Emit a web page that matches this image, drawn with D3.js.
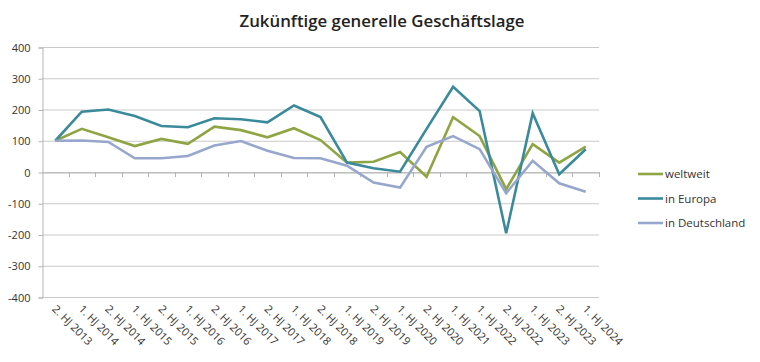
<!DOCTYPE html>
<html>
<head>
<meta charset="utf-8">
<script src="https://cdn.jsdelivr.net/npm/d3@7"></script>
<style>
  body { margin: 0; background: #fff; }
  text { font-family: "Open Sans", "Liberation Sans", sans-serif; fill: #333; }
</style>
</head>
<body>
<svg id="chart" width="760" height="362"></svg>
<script>
var categories = ["2. HJ 2013", "1. HJ 2014", "2. HJ 2014", "1. HJ 2015", "2. HJ 2015", "1. HJ 2016",
    "2. HJ 2016", "1. HJ 2017", "2. HJ 2017", "1. HJ 2018", "2. HJ 2018", "1. HJ 2019", "2. HJ 2019",
    "1. HJ 2020", "2. HJ 2020", "1. HJ 2021", "1. HJ 2022", "2. HJ 2022", "1. HJ 2023", "2. HJ 2023", "1. HJ 2024"];
var weltweit = [100, 138, 111, 83, 106, 90, 145, 134, 111, 140, 102, 30, 33, 64, -15, 175, 115, -55, 89, 30, 81];
var europa = [100, 193, 200, 179, 147, 143, 172, 169, 159, 213, 176, 30, 12, 1, 138, 273, 195, -196, 188, -7, 73];
var deutschland = [100, 101, 96, 44, 44, 51, 85, 99, 68, 45, 44, 20, -34, -50, 81, 115, 73, -68, 36, -36, -63];
var yTicks = [-400, -300, -200, -100, 0, 100, 200, 300, 400];

var series = [
    { name: "weltweit", values: weltweit, color: "#8fa543" },
    { name: "in Europa", values: europa, color: "#3b8a9b" },
    { name: "in Deutschland", values: deutschland, color: "#97a6cc" }
];

var svg = d3.select("#chart");
var plotLeft = 42, plotRight = 599, plotTop = 47, plotBottom = 297;

var x = d3.scaleBand().domain(categories).range([plotLeft, plotRight]);
var y = d3.scaleLinear().domain([-400, 400]).range([plotBottom, plotTop]);

// title
svg.append("text")
    .attr("x", 382).attr("y", 27)
    .attr("text-anchor", "middle")
    .style("font-size", "17px").style("font-weight", "600").style("fill", "#222")
    .attr("textLength", 285).attr("lengthAdjust", "spacingAndGlyphs")
    .text("Zukünftige generelle Geschäftslage");

// gridlines
svg.append("g").selectAll("line").data(yTicks).enter().append("line")
    .attr("x1", plotLeft).attr("x2", plotRight)
    .attr("y1", function (d) { return y(d) + 0.5; })
    .attr("y2", function (d) { return y(d) + 0.5; })
    .attr("stroke", "#c9c9c9").attr("stroke-width", 1.2);

// y axis (plain hyphen for negatives, like the original)
var yAxis = svg.append("g")
    .attr("transform", "translate(" + (plotLeft + 0.5) + ",0.5)")
    .call(d3.axisLeft(y).tickValues(yTicks).tickSize(4).tickPadding(8)
        .tickFormat(function (d) { return String(d); }));
yAxis.select(".domain").attr("stroke", "#b5b5b5");
yAxis.selectAll(".tick line").attr("stroke", "#b5b5b5");
yAxis.selectAll("text").style("font-size", "11px").style("fill", "#333");

// x axis along zero
var xAxis = svg.append("g")
    .attr("transform", "translate(0," + (y(0) + 0.5) + ")")
    .call(d3.axisBottom(x).tickSize(0).tickFormat(""));
xAxis.select(".domain").attr("stroke", "#b5b5b5");
svg.append("g").selectAll("line").data(categories).enter().append("line")
    .attr("x1", function (d) { return Math.round(x(d) + x.bandwidth()) + 0.5; })
    .attr("x2", function (d) { return Math.round(x(d) + x.bandwidth()) + 0.5; })
    .attr("y1", y(0)).attr("y2", y(0) + 5)
    .attr("stroke", "#b5b5b5");

// category labels
svg.append("g").selectAll("text").data(categories).enter().append("text")
    .attr("transform", function (d) {
        return "translate(" + (x(d) + x.bandwidth() / 2 - 1) + "," + (plotBottom + 10) + ") rotate(45)";
    })
    .attr("dy", "0.35em")
    .style("font-size", "11px").style("fill", "#333")
    .text(function (d) { return d; });

// lines
var line = d3.line()
    .x(function (d, i) { return x(categories[i]) + x.bandwidth() / 2; })
    .y(function (d) { return y(d); });

svg.append("g").selectAll("path").data(series).enter().append("path")
    .attr("d", function (d) { return line(d.values); })
    .attr("fill", "none")
    .attr("stroke", function (d) { return d.color; })
    .attr("stroke-width", 2.6)
    .attr("stroke-linejoin", "miter");

// legend
var legend = svg.append("g").selectAll("g").data(series).enter().append("g")
    .attr("transform", function (d, i) { return "translate(638," + (174 + i * 24.5) + ")"; });
legend.append("line")
    .attr("x1", 0).attr("x2", 25)
    .attr("stroke", function (d) { return d.color; })
    .attr("stroke-width", 2.6);
legend.append("text")
    .attr("x", 27).attr("dy", "0.35em")
    .style("font-size", "11.5px").style("fill", "#333")
    .text(function (d) { return d.name; });
</script>
</body>
</html>
